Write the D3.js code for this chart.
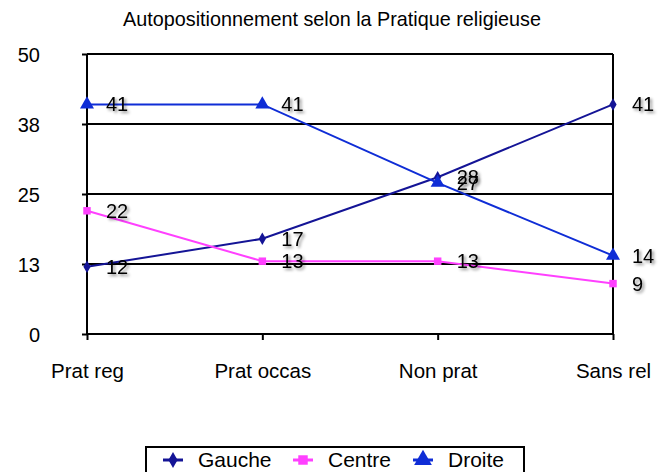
<!DOCTYPE html>
<html>
<head>
<meta charset="utf-8">
<script src="https://cdn.jsdelivr.net/npm/d3@7"></script>
<style>
  body { margin: 0; background: #fff; }
  svg text { font-family: "Liberation Sans", Arial, sans-serif; fill: #000; }
</style>
</head>
<body>
<div class="visHolder"></div>
<script>
const categories = ["Prat reg", "Prat occas", "Non prat", "Sans rel"];
const gauche = [12, 17, 28, 41];
const centre = [22, 13, 13, 9];
const droite = [41, 41, 27, 14];
const yTicks = [0, 12.5, 25, 37.5, 50];
const yTickLabels = ["0", "13", "25", "38", "50"];

const series = [
  { name: "Gauche", values: gauche, color: "#141496", symbol: d3.symbolDiamond, size: 45 },
  { name: "Centre", values: centre, color: "#ff40ff", symbol: d3.symbolSquare, size: 56 },
  { name: "Droite", values: droite, color: "#0f2dd6", symbol: d3.symbolTriangle, size: 85 }
];

const width = 662, height = 472;
const plotLeft = 87, plotRight = 613, plotTop = 54, plotBottom = 334;

const svg = d3.select(".visHolder").append("svg")
  .attr("width", width)
  .attr("height", height);

const defs = svg.append("defs");
defs.append("filter").attr("id", "shadow")
  .attr("x", "-30%").attr("y", "-30%").attr("width", "160%").attr("height", "160%")
  .append("feDropShadow")
  .attr("dx", 2).attr("dy", 2).attr("stdDeviation", 1.5)
  .attr("flood-color", "#000").attr("flood-opacity", 0.45);

const x = d3.scalePoint().domain(categories).range([plotLeft, plotRight]).padding(0);
const y = d3.scaleLinear().domain([0, 50]).range([plotBottom, plotTop]);

// title
svg.append("text")
  .attr("x", 332).attr("y", 26)
  .attr("text-anchor", "middle")
  .style("font-size", "19.8px")
  .text("Autopositionnement selon la Pratique religieuse");

// grid lines
svg.append("g").selectAll("line")
  .data(yTicks.slice(1))
  .enter().append("line")
  .attr("x1", plotLeft).attr("x2", plotRight)
  .attr("y1", d => y(d)).attr("y2", d => y(d))
  .attr("stroke", "#000").attr("stroke-width", 2);

// right border
svg.append("line")
  .attr("x1", plotRight).attr("x2", plotRight)
  .attr("y1", plotTop).attr("y2", plotBottom)
  .attr("stroke", "#000").attr("stroke-width", 2);

// y axis
const yAxis = d3.axisLeft(y)
  .tickValues(yTicks)
  .tickFormat((d, i) => yTickLabels[i])
  .tickSize(5)
  .tickPadding(42);
const gy = svg.append("g")
  .attr("transform", "translate(" + plotLeft + ",0)")
  .call(yAxis);
gy.select(".domain").attr("stroke-width", 2).attr("d", "M0," + plotBottom + "V" + plotTop);
gy.selectAll(".tick line").attr("stroke-width", 2);
gy.selectAll(".tick text").style("font-size", "20px").attr("dy", "0.36em");

// x axis
const xAxis = d3.axisBottom(x).tickSize(6).tickPadding(23);
const gx = svg.append("g")
  .attr("transform", "translate(0," + plotBottom + ")")
  .call(xAxis);
gx.select(".domain").attr("stroke-width", 2).attr("d", "M" + plotLeft + ",0H" + plotRight);
gx.selectAll(".tick line").attr("stroke-width", 2);
gx.selectAll(".tick text").style("font-size", "20.5px");

const line = d3.line()
  .x((d, i) => x(categories[i]))
  .y(d => y(d));

series.forEach(s => {
  const g = svg.append("g");
  g.append("path")
    .datum(s.values)
    .attr("fill", "none")
    .attr("stroke", s.color)
    .attr("stroke-width", 2)
    .attr("d", line);
  g.selectAll("path.marker")
    .data(s.values)
    .enter().append("path")
    .attr("class", "marker")
    .attr("transform", (d, i) => "translate(" + x(categories[i]) + "," + y(d) + ")")
    .attr("fill", s.color)
    .attr("d", d3.symbol().type(s.symbol).size(s.size));
});

// data labels
series.forEach(s => {
  svg.append("g").selectAll("text")
    .data(s.values)
    .enter().append("text")
    .attr("x", (d, i) => x(categories[i]) + 19)
    .attr("y", d => y(d) + 7)
    .attr("filter", "url(#shadow)")
    .style("font-size", "20px")
    .text(d => d);
});

// legend
const legend = svg.append("g");
legend.append("rect")
  .attr("x", 146).attr("y", 447)
  .attr("width", 378).attr("height", 30)
  .attr("fill", "#fff")
  .attr("stroke", "#000").attr("stroke-width", 2);
const legendX = [173, 303, 423];
series.forEach((s, i) => {
  legend.append("line")
    .attr("x1", legendX[i] - 10).attr("x2", legendX[i] + 10)
    .attr("y1", 460).attr("y2", 460)
    .attr("stroke", s.color).attr("stroke-width", 3);
  legend.append("path")
    .attr("transform", "translate(" + legendX[i] + ",460)")
    .attr("fill", s.color)
    .attr("d", d3.symbol().type(s.symbol).size(s.size * 1.6));
  legend.append("text")
    .attr("x", legendX[i] + 25).attr("y", 467)
    .style("font-size", "21px")
    .text(s.name);
});
</script>
</body>
</html>
